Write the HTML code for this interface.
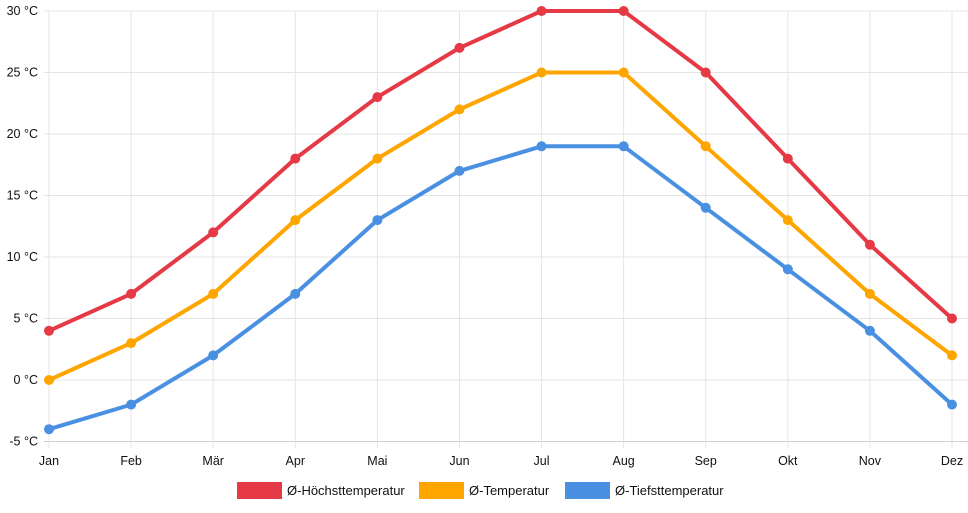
<!DOCTYPE html>
<html><head><meta charset="utf-8"><style>
body{margin:0;background:#fff;font-family:"Liberation Sans",sans-serif}
svg text{font-family:"Liberation Sans",sans-serif;font-size:12.5px;fill:#111}
</style></head><body>
<svg id="c" width="968" height="508"></svg>
<script>
const months=["Jan","Feb","Mär","Apr","Mai","Jun","Jul","Aug","Sep","Okt","Nov","Dez"];
const high=[4,7,12,18,23,27,30,30,25,18,11,5];
const avg=[0,3,7,13,18,22,25,25,19,13,7,2];
const low=[-4,-2,2,7,13,17,19,19,14,9,4,-2];
const yTicks=[-5,0,5,10,15,20,25,30];
const seriesNames=["Ø-Höchsttemperatur","Ø-Temperatur","Ø-Tiefsttemperatur"];
const svg=document.getElementById('c');const NS='http://www.w3.org/2000/svg';
const X=i=>49+i*(952-49)/11;
const Y=v=>380-v*(380-11)/30;
function el(t,a,p){const e=document.createElementNS(NS,t);for(const k in a)e.setAttribute(k,a[k]);(p||svg).appendChild(e);return e;}
yTicks.forEach(v=>{
 const l=el('line',{x1:44,x2:968,y1:Y(v),y2:Y(v),stroke:v===-5?'#cfcfcf':'#e5e5e5'});
 
 
 const t=el('text',{x:38,y:Y(v)+4,'text-anchor':'end'});t.textContent=v+' °C';
 
 
});
months.forEach((m,i)=>{
 const l=el('line',{x1:X(i),x2:X(i),y1:11,y2:448,stroke:'#e5e5e5'});
 
 
 const t=el('text',{x:X(i),y:465,'text-anchor':'middle'});t.textContent=m;
 
 
});
const sets=[[high,'#e63946'],[avg,'#ffa500'],[low,'#4a90e2']];
sets.forEach(([d,c],si)=>{
 const g=el('g',{});
 
 
 const p=el('polyline',{points:d.map((v,i)=>X(i)+','+Y(v)).join(' '),fill:'none',stroke:c,'stroke-width':4,'stroke-linejoin':'round'},g);
 
 
 d.forEach((v,i)=>{const ci=el('circle',{cx:X(i),cy:Y(v),r:5,fill:c},g);
  
  });
});
const lx=[237,419,565];
seriesNames.forEach((n,i)=>{
 const g=el('g',{});
 
 
 el('rect',{x:lx[i],y:482,width:45,height:17,fill:sets[i][1]},g);
 const t=el('text',{x:lx[i]+50,y:495},g);t.textContent=n;t.style.fontSize='13px';
});
</script>
</body></html>
